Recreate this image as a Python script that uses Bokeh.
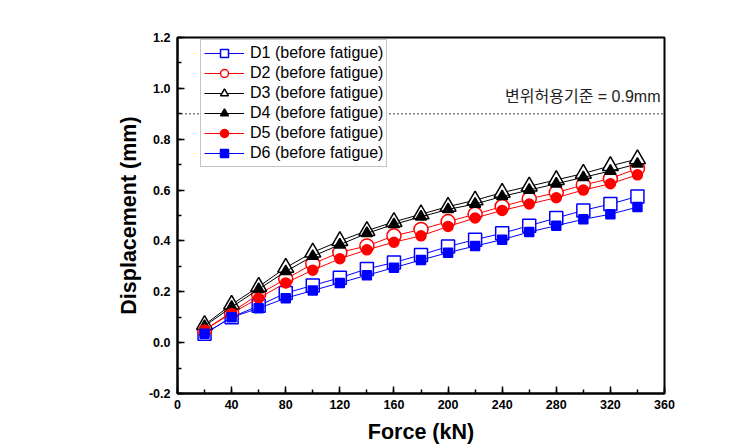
from bokeh.plotting import figure
from bokeh.models import Span, Label, Legend, FixedTicker, Range1d, CustomJSTickFormatter
from bokeh.embed import file_html
from bokeh.resources import INLINE

force = [20, 40, 60, 80, 100, 120, 140, 160, 180, 200, 220, 240, 260, 280, 300, 320, 340]
d1 = [0.035, 0.100, 0.145, 0.195, 0.225, 0.255, 0.290, 0.315, 0.345, 0.378, 0.405, 0.430, 0.460, 0.490, 0.520, 0.545, 0.575]
d2 = [0.050, 0.120, 0.190, 0.250, 0.310, 0.355, 0.380, 0.420, 0.445, 0.476, 0.505, 0.535, 0.565, 0.590, 0.620, 0.645, 0.685]
d3 = [0.070, 0.150, 0.220, 0.295, 0.355, 0.400, 0.440, 0.475, 0.505, 0.535, 0.560, 0.590, 0.615, 0.640, 0.665, 0.695, 0.722]
d4 = [0.065, 0.140, 0.210, 0.280, 0.340, 0.385, 0.430, 0.465, 0.495, 0.524, 0.545, 0.575, 0.600, 0.625, 0.650, 0.675, 0.703]
d5 = [0.050, 0.115, 0.175, 0.235, 0.285, 0.330, 0.365, 0.395, 0.420, 0.457, 0.490, 0.520, 0.545, 0.570, 0.600, 0.625, 0.660]
d6 = [0.035, 0.100, 0.135, 0.175, 0.205, 0.235, 0.265, 0.295, 0.325, 0.354, 0.380, 0.405, 0.435, 0.460, 0.485, 0.505, 0.533]

names = ["D1 (before fatigue)", "D2 (before fatigue)", "D3 (before fatigue)",
         "D4 (before fatigue)", "D5 (before fatigue)", "D6 (before fatigue)"]
x_ticks = [0, 40, 80, 120, 160, 200, 240, 280, 320, 360]
y_ticks = [-0.2, 0.0, 0.2, 0.4, 0.6, 0.8, 1.0, 1.2]
limit = 0.9
limit_text = "변위허용기준 = 0.9mm"

p = figure(frame_width=487, frame_height=356, output_backend="svg", toolbar_location=None,
           x_range=Range1d(0, 360), y_range=Range1d(-0.2, 1.2),
           min_border_left=177, min_border_top=37, min_border_right=59, min_border_bottom=46)
p.grid.visible = False
p.outline_line_color = "black"
p.outline_line_width = 2
p.background_fill_color = "white"
p.border_fill_color = "white"

for ax in (p.xaxis[0], p.yaxis[0]):
    ax.axis_line_width = 2
    ax.axis_line_color = "black"
    ax.major_tick_in = 7
    ax.major_tick_out = 0
    ax.minor_tick_in = 4
    ax.minor_tick_out = 0
    ax.major_tick_line_width = 1.5
    ax.minor_tick_line_width = 1.5
    ax.major_tick_line_color = "black"
    ax.minor_tick_line_color = "black"
    ax.major_label_text_font = "Liberation Sans"
    ax.major_label_text_font_style = "bold"
    ax.major_label_text_font_size = "12.5px"
    ax.major_label_text_color = "black"
    ax.axis_label_text_font = "Liberation Sans"
    ax.axis_label_text_font_style = "bold"
    ax.axis_label_text_font_size = "21.5px"
    ax.axis_label_text_color = "black"

p.xaxis.ticker = FixedTicker(ticks=x_ticks, minor_ticks=list(range(0, 361, 20)))
p.yaxis.ticker = FixedTicker(ticks=y_ticks, minor_ticks=[round(-0.2 + 0.1 * i, 2) for i in range(15)])
p.yaxis.formatter = CustomJSTickFormatter(code="return tick.toFixed(1);")
p.xaxis.axis_label = "Force (kN)"
p.yaxis.axis_label = "Displacement (mm)"
p.xaxis.major_label_standoff = 6
p.xaxis.axis_label_standoff = 8
p.yaxis.major_label_standoff = 7
p.yaxis.axis_label_standoff = 5

span = Span(location=limit, dimension="width", line_color="black", line_dash="1 3", line_width=1.5)
p.add_layout(span)
p.add_layout(Label(x=360, y=limit, x_offset=-4, y_offset=9, text=limit_text,
                   text_align="right", text_baseline="bottom", text_font_size="16px",
                   text_font="Liberation Sans, Noto Sans CJK KR", text_color="#222222"))

styles = [
    (d1, "#0000ff", "square", False, 13),
    (d2, "#ff0000", "circle", False, 14),
    (d3, "black", "triangle", False, 16),
    (d4, "black", "triangle", True, 11),
    (d5, "#ff0000", "circle", True, 10),
    (d6, "#0000ff", "square", True, 9),
]
items = []
for name, (vals, col, mk, filled, sz) in zip(names, styles):
    r1 = p.line(force, vals, line_color=col, line_width=1)
    r2 = p.scatter(force, vals, marker=mk, size=sz, line_color=col, line_width=1.5,
                   fill_color=col if filled else "white", fill_alpha=1.0)
    items.append((name, [r1, r2]))

legend = Legend(items=items, location=(23, 226))
legend.label_text_font = "Liberation Sans"
legend.label_text_font_size = "16px"
legend.label_text_color = "black"
legend.border_line_color = "#888888"
legend.border_line_width = 1
legend.glyph_width = 40
legend.glyph_height = 20
legend.spacing = 0
legend.padding = 3
legend.margin = 0
legend.label_standoff = 6
legend.label_height = 20
legend.background_fill_alpha = 1
p.add_layout(legend, "center")

open("out.html", "w").write(file_html(p, INLINE))
